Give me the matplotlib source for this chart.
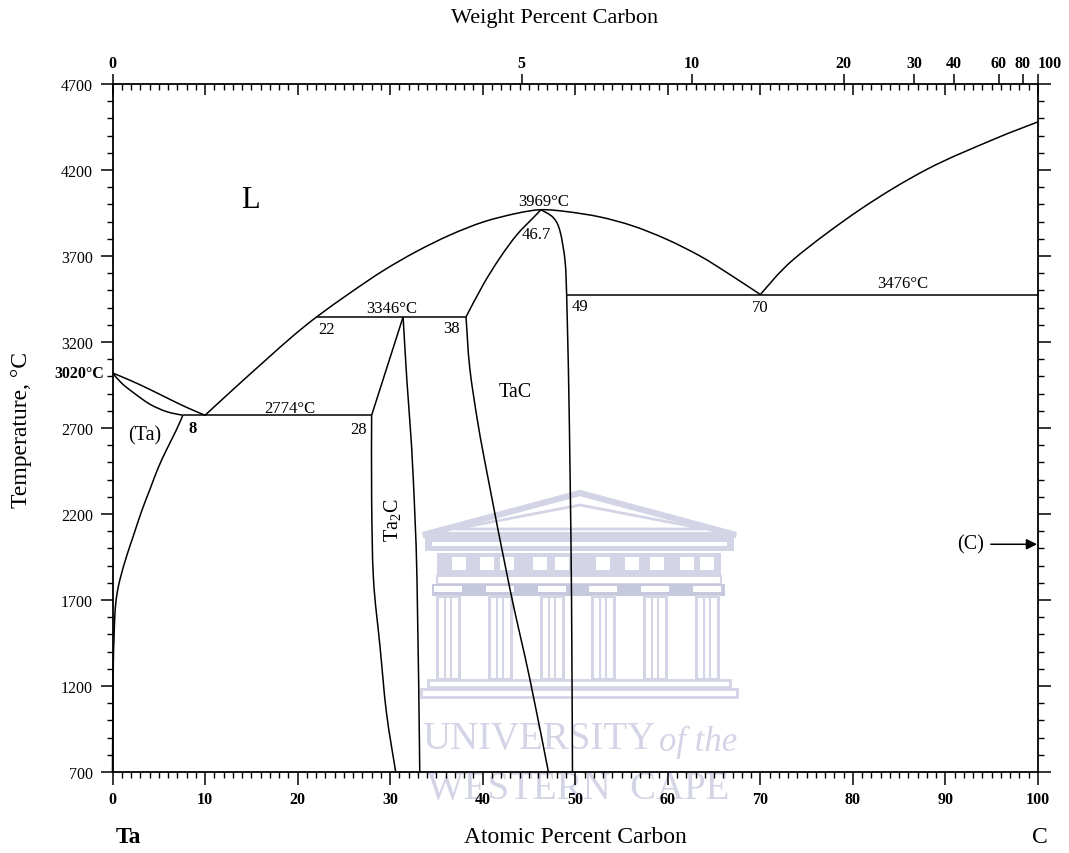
import matplotlib
matplotlib.use("Agg")
import matplotlib.pyplot as plt
from matplotlib.ticker import MultipleLocator, FixedLocator, NullFormatter
from matplotlib.patches import Polygon, Rectangle, PathPatch
from matplotlib.path import Path

plt.rcParams['font.family'] = ['Liberation Serif', 'DejaVu Serif']
plt.rcParams['mathtext.fontset'] = 'custom'
plt.rcParams['mathtext.rm'] = 'Liberation Serif'

# ---------------- data (atomic % C, temperature degC) ----------------
ta_liquidus_x = [0, 2, 4, 6, 8, 10]
ta_liquidus_T = [3020, 2975, 2925, 2872, 2820, 2774]

ta_solidus_x = [0, 1.0, 2.25, 4.05, 5.85, 7.6]
ta_solidus_T = [3020, 2960, 2906, 2838, 2795, 2774]

ta_solvus_x = [7.6, 6.93, 5.86, 4.95, 4.05, 3.15, 2.25, 1.53, 0.81, 0.45, 0.27, 0.16, 0.09, 0.03, 0.0]
ta_solvus_T = [2774, 2692, 2576, 2470, 2344, 2217, 2072, 1956, 1820, 1723, 1627, 1471, 1338, 1000, 700]

liquidus_mid_x = [10, 13.05, 16.66, 19.5, 22.06, 25.66, 29.26, 32.87, 36.47, 40.07, 43.67, 46.3,
                  49.07, 52.67, 56.27, 59.88, 63.48, 66.4, 70]
liquidus_mid_T = [2774, 2925, 3100, 3235, 3346, 3485, 3615, 3727, 3822, 3898, 3948, 3969,
                  3958, 3927, 3874, 3797, 3700, 3603, 3476]

c_liquidus_x = [70, 73.6, 80.8, 88.0, 95.2, 100]
c_liquidus_T = [3476, 3681, 3971, 4204, 4378, 4480]

tac_left_upper_x = [38.2, 40.07, 41.87, 43.67, 45.47, 46.3]
tac_left_upper_T = [3346, 3535, 3690, 3822, 3923, 3969]

tac_right_upper_x = [46.3, 47.63, 48.35, 48.9, 49.07]
tac_right_upper_T = [3969, 3923, 3845, 3671, 3476]

tac_right_lower_x = [49.07, 49.2, 49.3, 49.45, 49.6, 49.7]
tac_right_lower_T = [3476, 3187, 2925, 2400, 1700, 700]

tac_left_lower_x = [38.2, 38.6, 39.5, 40.6, 42.95, 45.1, 47.1]
tac_left_lower_T = [3346, 3050, 2722, 2402, 1762, 1239, 700]

ta2c_left_upper_x = [28.0, 31.4]
ta2c_left_upper_T = [2774, 3346]

ta2c_right_x = [31.4, 31.8, 32.15, 32.5, 32.9, 33.2]
ta2c_right_T = [3346, 2983, 2722, 2402, 1820, 700]

ta2c_left_lower_x = [28.0, 28.0, 28.2, 28.9, 29.6, 30.6]
ta2c_left_lower_T = [2774, 2285, 1820, 1432, 1045, 700]

eutectic_1_x = [7.6, 28.0]
eutectic_1_T = [2774, 2774]
peritectic_x = [22.06, 38.2]
peritectic_T = [3346, 3346]
eutectic_2_x = [49.07, 100]
eutectic_2_T = [3476, 3476]

x_ticks = [0, 10, 20, 30, 40, 50, 60, 70, 80, 90, 100]
y_ticks = [700, 1200, 1700, 2200, 2700, 3200, 3700, 4200, 4700]
wt_ticks = [0, 5, 10, 20, 30, 40, 60, 80, 100]

labels_text = ['8', '2774°C', '28', '22', '3346°C', '38', '46.7', '3969°C', '49', '70', '3476°C']
labels_x = [8.67, 19.2, 26.6, 23.1, 30.2, 36.65, 45.8, 46.6, 50.5, 69.96, 85.4]
labels_T = [2702, 2819, 2692, 3278, 3400, 3284, 3826, 4020, 3409, 3406, 3541]


def wt_to_at(w):
    if w >= 100:
        return 100.0
    a = w / 12.011
    b = (100 - w) / 180.948
    return 100 * a / (a + b)


def smooth_curve(ax, xs, ys, **kw):
    """Draw a smooth Bezier path through the read points (Catmull-Rom handles)."""
    n = len(xs)
    if n < 3:
        ax.plot(xs, ys, **kw)
        return
    pts = list(zip(xs, ys))
    verts = [pts[0]]
    codes = [Path.MOVETO]
    for i in range(n - 1):
        p0 = pts[i - 1] if i > 0 else pts[i]
        p1 = pts[i]
        p2 = pts[i + 1]
        p3 = pts[i + 2] if i + 2 < n else pts[i + 1]
        c1 = (p1[0] + (p2[0] - p0[0]) / 6, p1[1] + (p2[1] - p0[1]) / 6)
        c2 = (p2[0] - (p3[0] - p1[0]) / 6, p2[1] - (p3[1] - p1[1]) / 6)
        verts += [c1, c2, p2]
        codes += [Path.CURVE4] * 3
    ax.add_patch(PathPatch(Path(verts, codes), fill=False, **kw))


# ---------------- figure ----------------
W, H = 1069, 854
fig = plt.figure(figsize=(W / 100, H / 100), dpi=100)
fig.patch.set_facecolor('white')

# watermark layer (pixel coordinates)
wm = fig.add_axes([0, 0, 1, 1], zorder=0)
wm.set_xlim(0, W)
wm.set_ylim(H, 0)
wm.axis('off')
wc = '#d3d4e6'
wc2 = '#c6c8de'
wm.add_patch(Polygon([(423, 536), (580, 494), (736, 536)], closed=True, fc='none', ec=wc, lw=4.5, joinstyle='miter'))
wm.add_patch(Polygon([(455, 530), (580, 506), (705, 530)], closed=True, fc='none', ec=wc, lw=2))
wm.add_patch(Rectangle((425, 539), 309, 13, fc=wc, ec='none'))
wm.add_patch(Rectangle((432, 543), 295, 4, fc='white', ec='none'))
wm.add_patch(Rectangle((437, 554), 284, 22, fc=wc, ec='none'))
for wx in [452, 480, 500, 533, 555, 596, 625, 650, 680, 700]:
    wm.add_patch(Rectangle((wx, 558), 14, 13, fc='white', ec='none'))
wm.add_patch(Rectangle((437, 577), 284, 8, fc='white', ec=wc, lw=1.5))
wm.add_patch(Rectangle((432, 585), 293, 12, fc=wc2, ec='none'))
for cx in [448, 500, 552, 603, 655, 707]:
    wm.add_patch(Rectangle((cx - 14, 587), 28, 6, fc='white', ec='none'))
    wm.add_patch(Rectangle((cx - 11, 597), 22, 83, fc='white', ec=wc, lw=2.2))
    wm.plot([cx - 3, cx - 3], [598, 679], color=wc, lw=1.5)
    wm.plot([cx + 3, cx + 3], [598, 679], color=wc, lw=1.5)
wm.add_patch(Rectangle((428, 681), 302, 7, fc='white', ec=wc, lw=2))
wm.add_patch(Rectangle((421, 690), 316, 8, fc='white', ec=wc, lw=2))
wm.text(422, 740, 'UNIVERSITY', fontsize=28, color=wc, ha='left', va='center')
wm.text(737, 742, 'of the', fontsize=25, color=wc, ha='right', va='center', style='italic')
wm.text(578, 790, 'WESTERN  CAPE', fontsize=28, color=wc, ha='center', va='center')

# main axes
x0, x1, y0, y1 = 112.5, 1038, 85, 773
ax = fig.add_axes([x0 / W, 1 - y1 / H, (x1 - x0) / W, (y1 - y0) / H], zorder=1)
ax.set_facecolor('none')
ax.set_xlim(0, 100)
ax.set_ylim(700, 4700)

style = dict(color='black', lw=1.1, clip_on=False)
for xs, ts in [(ta_liquidus_x, ta_liquidus_T), (ta_solidus_x, ta_solidus_T),
               (ta_solvus_x, ta_solvus_T), (liquidus_mid_x, liquidus_mid_T),
               (c_liquidus_x, c_liquidus_T), (tac_left_upper_x, tac_left_upper_T),
               (tac_right_upper_x, tac_right_upper_T), (tac_right_lower_x, tac_right_lower_T),
               (tac_left_lower_x, tac_left_lower_T),
               (ta2c_right_x, ta2c_right_T), (ta2c_left_lower_x, ta2c_left_lower_T)]:
    smooth_curve(ax, xs, ts, **style)
for xs, ts in [(ta2c_left_upper_x, ta2c_left_upper_T), (eutectic_1_x, eutectic_1_T),
               (peritectic_x, peritectic_T), (eutectic_2_x, eutectic_2_T)]:
    ax.plot(xs, ts, solid_capstyle='butt', **style)

# spines
for s in ax.spines.values():
    s.set_linewidth(1.3)

# bottom / left / right ticks
ax.set_xticks(x_ticks)
ax.set_xticklabels([str(v) for v in x_ticks], fontweight='bold')
ax.xaxis.set_minor_locator(MultipleLocator(1))
ax.tick_params(axis='x', which='major', direction='out', length=9, width=1.1, labelsize=11.5, pad=5, top=False)
ax.tick_params(axis='x', which='minor', direction='out', length=4.5, width=1.0, top=False)
ax.set_yticks(y_ticks)
ax.set_yticklabels([str(v) for v in y_ticks])
ax.yaxis.set_minor_locator(MultipleLocator(100))
ax.tick_params(axis='y', which='major', direction='out', length=9, width=1.1, labelsize=11.5, pad=5, right=True)
ax.tick_params(axis='y', which='minor', direction='out', length=4.5, width=1.0, right=True)

# top atomic-percent ticks pointing inward
ax_in = ax.twiny()
ax_in.set_xlim(0, 100)
ax_in.xaxis.set_major_locator(MultipleLocator(10))
ax_in.xaxis.set_minor_locator(MultipleLocator(1))
ax_in.xaxis.set_major_formatter(NullFormatter())
ax_in.tick_params(axis='x', which='major', direction='in', length=8, width=1.1)
ax_in.tick_params(axis='x', which='minor', direction='in', length=4, width=1.0)
for s in ax_in.spines.values():
    s.set_visible(False)

# top weight-percent ticks pointing outward
ax_wt = ax.twiny()
ax_wt.set_xlim(0, 100)
ax_wt.xaxis.set_major_locator(FixedLocator([wt_to_at(w) for w in wt_ticks]))
ax_wt.set_xticklabels([str(w) for w in wt_ticks], fontweight='bold')
ax_wt.tick_params(axis='x', which='major', direction='out', length=7.5, width=1.1, labelsize=11.5, pad=2)
ax_wt.xaxis.set_minor_locator(FixedLocator([]))
lbls = ax_wt.get_xticklabels()
lbls[-1].set_horizontalalignment('left')
for s in ax_wt.spines.values():
    s.set_visible(False)

# axis titles
fig.text(575 / W, 1 - 838 / H, 'Atomic Percent Carbon', fontsize=17, ha='center', va='center')
fig.text(128 / W, 1 - 838 / H, 'Ta', fontsize=17, fontweight='bold', ha='center', va='center')
fig.text(1040 / W, 1 - 838 / H, 'C', fontsize=17, ha='center', va='center')
fig.text(555 / W, 1 - 19 / H, 'Weight Percent Carbon', fontsize=16, ha='center', va='center')
fig.text(22 / W, 1 - 430 / H, 'Temperature, °C', fontsize=17, ha='center', va='center', rotation=90)

# annotations
ax.text(-0.9, 3020, '3020°C', fontsize=11.5, fontweight='bold', ha='right', va='center', clip_on=False)
for t, xv, tv in zip(labels_text, labels_x, labels_T):
    ax.text(xv, tv, t, fontsize=12, ha='center', va='center', fontweight='bold' if t == '8' else 'normal')
ax.text(14.9, 4030, 'L', fontsize=22, ha='center', va='center')
ax.text(3.5, 2663, '(Ta)', fontsize=14.5, ha='center', va='center')
ax.text(43.5, 2912, 'TaC', fontsize=14.5, ha='center', va='center')
ax.text(30.3, 2170, r'Ta$_\mathregular{2}$C', fontsize=14.5, ha='center', va='center', rotation=90)
ax.text(92.7, 2024, '(C)', fontsize=14.5, ha='center', va='center')
ax.annotate('', xy=(99.9, 2024), xytext=(94.9, 2024),
            arrowprops=dict(arrowstyle='-|>', color='black', lw=1.1, mutation_scale=16, shrinkA=0, shrinkB=0))

fig.savefig('out.png', dpi=100, facecolor='white')
